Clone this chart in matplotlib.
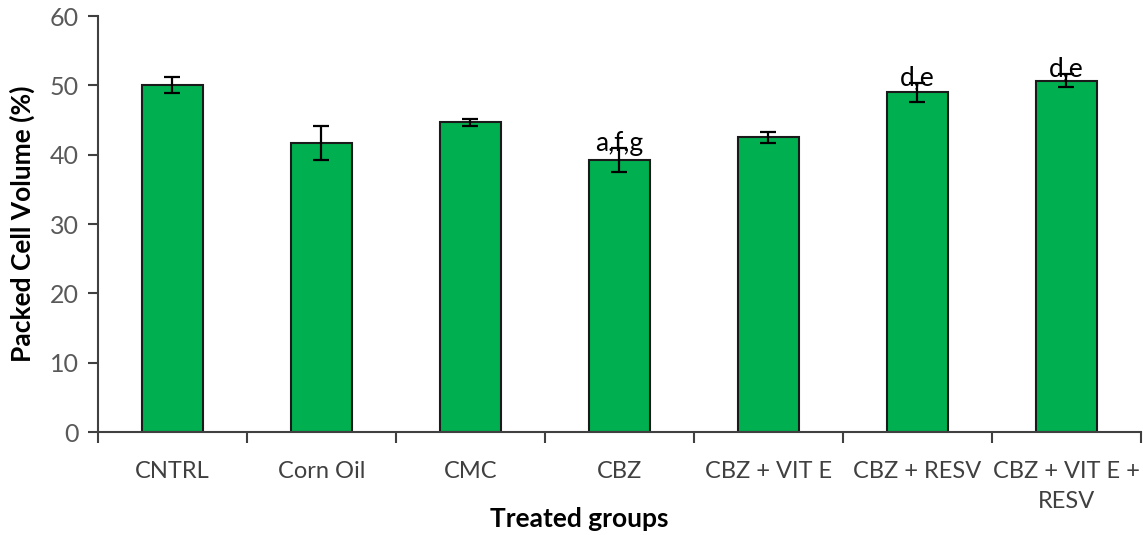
import matplotlib
matplotlib.use('Agg')
import matplotlib.pyplot as plt
import numpy as np

# Data
groups = ['CNTRL', 'Corn Oil', 'CMC', 'CBZ', 'CBZ + VIT E', 'CBZ + RESV', 'CBZ + VIT E +\nRESV']
pcv_mean = [50.0, 41.7, 44.7, 39.2, 42.5, 49.0, 50.7]
pcv_err = [1.15, 2.4, 0.5, 1.7, 0.8, 1.35, 0.9]
sig_labels = ['', '', '', 'a,f,g', '', 'd,e', 'd,e']

plt.rcParams['font.family'] = ['Lato', 'DejaVu Sans']

fig = plt.figure(figsize=(11.43, 5.35), dpi=100)
ax = fig.add_axes([0.0857, 0.1925, 0.9123, 0.7775])

x = np.arange(len(groups))
ax.bar(x, pcv_mean, width=0.41, color='#00B050', edgecolor='#1a1a1a', linewidth=1.5, zorder=2)
ax.errorbar(x, pcv_mean, yerr=pcv_err, fmt='none', ecolor='black', elinewidth=1.6,
            capsize=6, capthick=1.6, zorder=3)

for i, lab in enumerate(sig_labels):
    if lab:
        ax.text(x[i], pcv_mean[i] + pcv_err[i] - 0.3, lab, ha='center', va='baseline',
                fontsize=19, color='black', zorder=4)

ax.set_xlim(-0.5, len(groups) - 0.5)
ax.set_ylim(0, 60)
ax.set_yticks(range(0, 61, 10))
ax.tick_params(axis='y', labelsize=18, labelcolor='#595959', length=7, width=1.5, color='#404040', pad=7)

# category labels centred, tick marks on category boundaries (Excel style)
ax.set_xticks(x)
ax.set_xticklabels(groups, linespacing=1.5)
ax.tick_params(axis='x', which='major', length=0, labelsize=17, labelcolor='#404040', pad=21)
ax.set_xticks(np.arange(-0.5, len(groups)), minor=True)
ax.tick_params(axis='x', which='minor', length=8, width=1.5, color='#404040')

for s in ['top', 'right']:
    ax.spines[s].set_visible(False)
for s in ['left', 'bottom']:
    ax.spines[s].set_linewidth(1.5)
    ax.spines[s].set_color('#404040')

ax.set_ylabel('Packed Cell Volume (%)', fontsize=19, fontweight='bold', va='center')
ax.yaxis.set_label_coords(-0.0729, 0.5)
ax.set_xlabel('Treated groups', fontsize=19, fontweight='bold', va='center')
ax.xaxis.set_label_coords(0.462, -0.209)

plt.savefig('out.png', dpi=100)
